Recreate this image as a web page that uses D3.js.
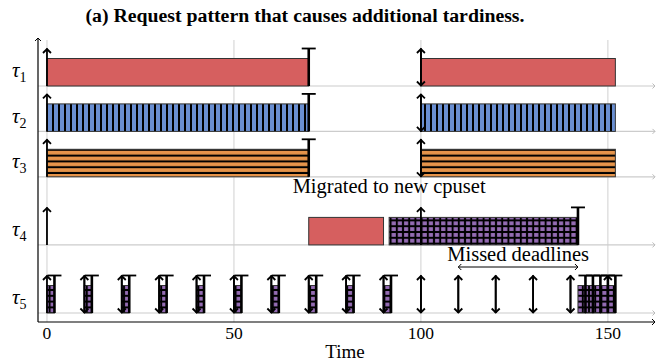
<!DOCTYPE html>
<html>
<head>
<meta charset="utf-8">
<script src="https://cdn.jsdelivr.net/npm/d3@7"></script>
<style>
body { margin: 0; background: #fff; }
text { font-family: "Liberation Serif", "DejaVu Serif", serif; }
</style>
</head>
<body>
<svg id="chart" width="658" height="364"></svg>
<script>
// ---- data ----
var tasks = ["1", "2", "3", "4", "5"];
var rowPos = [0, 1, 2, 3.5, 5];
var xTicks = [0, 50, 100, 150];

// execution segments: [task, start, end, style]
var segments = [
  [0, 0, 70, "red"], [0, 100, 152, "red"],
  [1, 0, 70, "blue"], [1, 100, 152, "blue"],
  [2, 0, 70, "orange"], [2, 100, 152, "orange"],
  [3, 70, 90, "red"], [3, 91.5, 142, "purple"],
  [4, 0, 2, "purple"], [4, 10, 12, "purple"], [4, 20, 22, "purple"],
  [4, 30, 32, "purple"], [4, 40, 42, "purple"], [4, 50, 52, "purple"],
  [4, 60, 62, "purple"], [4, 70, 72, "purple"], [4, 80, 82, "purple"],
  [4, 90, 92, "purple"],
  [4, 142, 144, "purple"], [4, 144, 146, "purple"], [4, 146, 148, "purple"],
  [4, 148, 150, "purple"], [4, 150, 152, "purple"]
];

// job releases (up arrows): [task, time]
var releases = [
  [0, 0], [0, 100], [1, 0], [1, 100], [2, 0], [2, 100],
  [3, 0], [3, 100],
  [4, 0], [4, 10], [4, 20], [4, 30], [4, 40], [4, 50], [4, 60], [4, 70],
  [4, 80], [4, 90], [4, 100], [4, 110], [4, 120], [4, 130], [4, 140], [4, 150]
];

// deadlines (down arrows)
var deadlines = [
  [0, 100], [1, 100], [2, 100],
  [4, 10], [4, 20], [4, 30], [4, 40], [4, 50], [4, 60], [4, 70],
  [4, 80], [4, 90], [4, 100], [4, 110], [4, 120], [4, 130], [4, 140]
];

// completions (T markers)
var completions = [
  [0, 70], [1, 70], [2, 70], [3, 142],
  [4, 2], [4, 12], [4, 22], [4, 32], [4, 42], [4, 52], [4, 62], [4, 72],
  [4, 82], [4, 92], [4, 144], [4, 146], [4, 148], [4, 150], [4, 152]
];

var notes = [
  {text: "Migrated to new cpuset", x: 91.5, y: 2.36},
  {text: "Missed deadlines", x: 126, y: 3.85}
];
var missedSpan = [110, 142];

// ---- drawing ----
var svg = d3.select("#chart");
var xScale = d3.scaleLinear().domain([-2.4, 162.6]).range([38, 655]);
var yScale = d3.scaleLinear().domain([0, 5]).range([86, 313]);
var axisY = 322, topY = 40;
var barH = 27.5, arrowH = 37.5;

var colors = {red: "#d65f5f", blue: "#6a8fd2", orange: "#e6944a", purple: "#956cb4"};

var defs = svg.append("defs");
var pv = defs.append("pattern").attr("id", "pat-blue")
  .attr("patternUnits", "userSpaceOnUse").attr("width", 6).attr("height", 6);
pv.append("rect").attr("width", 6).attr("height", 6).attr("fill", colors.blue);
pv.append("rect").attr("x", 4).attr("width", 2).attr("height", 6).attr("fill", "#000");

var ph = defs.append("pattern").attr("id", "pat-orange")
  .attr("patternUnits", "userSpaceOnUse").attr("width", 6).attr("height", 5.8);
ph.append("rect").attr("width", 6).attr("height", 5.8).attr("fill", colors.orange);
ph.append("rect").attr("y", 3.8).attr("width", 6).attr("height", 2).attr("fill", "#000");

var pg = defs.append("pattern").attr("id", "pat-purple")
  .attr("patternUnits", "userSpaceOnUse").attr("width", 6.2).attr("height", 5.8);
pg.append("rect").attr("width", 6.2).attr("height", 5.8).attr("fill", "#000");
pg.append("rect").attr("x", 1).attr("y", 1).attr("width", 4.2).attr("height", 3.8).attr("fill", colors.purple);

function fillFor(s) {
  if (s == "red") return colors.red;
  return "url(#pat-" + s + ")";
}

// title
svg.append("text")
  .attr("x", 305).attr("y", 22)
  .attr("text-anchor", "middle")
  .attr("font-weight", "bold")
  .attr("font-size", 19.8)
  .text("(a) Request pattern that causes additional tardiness.");

// vertical grid
svg.selectAll("line.vgrid").data(xTicks).enter().append("line")
  .attr("x1", function(d) { return xScale(d); })
  .attr("x2", function(d) { return xScale(d); })
  .attr("y1", topY).attr("y2", axisY)
  .attr("stroke", "#d0d0d0").attr("stroke-width", 1);

function arrowHead(g, x, y, dir, size, color, width) {
  // dir: "up", "down", "right", "left"
  var p;
  if (dir == "up") p = [[x - size, y + size], [x, y], [x + size, y + size]];
  else if (dir == "down") p = [[x - size, y - size], [x, y], [x + size, y - size]];
  else if (dir == "right") p = [[x - size, y - size], [x, y], [x - size, y + size]];
  else p = [[x + size, y - size], [x, y], [x + size, y + size]];
  g.append("path").attr("d", d3.line()(p))
    .attr("fill", "none").attr("stroke", color).attr("stroke-width", width)
    .attr("stroke-linejoin", "miter");
}

// row baselines with small arrows
var gBase = svg.append("g");
rowPos.forEach(function(r) {
  var y = yScale(r);
  gBase.append("line").attr("x1", 38).attr("x2", 655).attr("y1", y).attr("y2", y)
    .attr("stroke", "#cccccc").attr("stroke-width", 1.2);
  arrowHead(gBase, 655, y, "right", 2.5, "#bbbbbb", 1);
});

// bars
svg.selectAll("rect.bar").data(segments).enter().append("rect")
  .attr("class", "bar")
  .attr("x", function(d) { return xScale(d[1]); })
  .attr("y", function(d) { return yScale(rowPos[d[0]]) - barH; })
  .attr("width", function(d) { return xScale(d[2]) - xScale(d[1]); })
  .attr("height", barH)
  .attr("fill", function(d) { return fillFor(d[3]); })
  .attr("stroke", "#333").attr("stroke-width", 1);

// axes
var gAxis = svg.append("g");
gAxis.append("line").attr("x1", 38).attr("x2", 655).attr("y1", axisY).attr("y2", axisY)
  .attr("stroke", "#000").attr("stroke-width", 1.2);
arrowHead(gAxis, 655, axisY, "right", 3, "#000", 1);
gAxis.append("line").attr("x1", 38).attr("x2", 38).attr("y1", axisY).attr("y2", 38)
  .attr("stroke", "#000").attr("stroke-width", 1.2);
arrowHead(gAxis, 38, 38, "up", 3, "#000", 1);

svg.selectAll("text.tick").data(xTicks).enter().append("text")
  .attr("x", function(d) { return xScale(d); })
  .attr("y", 339)
  .attr("text-anchor", "middle")
  .attr("font-size", 17.5)
  .text(function(d) { return d; });

svg.append("text").attr("x", 345).attr("y", 358)
  .attr("text-anchor", "middle").attr("font-size", 19).text("Time");

// task labels
tasks.forEach(function(t, i) {
  var y = yScale(rowPos[i]) - barH / 2 + 5;
  var lbl = svg.append("text").attr("x", 12).attr("y", y).attr("font-size", 21);
  lbl.append("tspan").attr("font-style", "italic").text("τ");
  lbl.append("tspan").attr("font-size", 14).attr("dy", 5).text(t);
});

// releases, deadlines, completions
var gArr = svg.append("g");
releases.forEach(function(d) {
  var x = xScale(d[1]), y0 = yScale(rowPos[d[0]]);
  gArr.append("line").attr("x1", x).attr("x2", x).attr("y1", y0).attr("y2", y0 - arrowH)
    .attr("stroke", "#000").attr("stroke-width", 1.8);
  arrowHead(gArr, x, y0 - arrowH + 0.5, "up", 4, "#000", 1.8);
});
deadlines.forEach(function(d) {
  var x = xScale(d[1]), y0 = yScale(rowPos[d[0]]);
  gArr.append("line").attr("x1", x).attr("x2", x).attr("y1", y0 - arrowH).attr("y2", y0)
    .attr("stroke", "#000").attr("stroke-width", 1.8);
  arrowHead(gArr, x, y0 - 0.5, "down", 4, "#000", 1.8);
});
completions.forEach(function(d) {
  var x = xScale(d[1]), y0 = yScale(rowPos[d[0]]);
  gArr.append("line").attr("x1", x).attr("x2", x).attr("y1", y0).attr("y2", y0 - arrowH)
    .attr("stroke", "#000").attr("stroke-width", 2.6);
  gArr.append("line").attr("x1", x - 7).attr("x2", x + 7)
    .attr("y1", y0 - arrowH).attr("y2", y0 - arrowH)
    .attr("stroke", "#000").attr("stroke-width", 1.8);
});

// annotations
notes.forEach(function(n) {
  svg.append("text").attr("x", xScale(n.x)).attr("y", yScale(n.y))
    .attr("text-anchor", "middle").attr("font-size", 20.5).text(n.text);
});
var my = 267;
gArr.append("line").attr("x1", xScale(missedSpan[0])).attr("x2", xScale(missedSpan[1]))
  .attr("y1", my).attr("y2", my).attr("stroke", "#000").attr("stroke-width", 1);
arrowHead(gArr, xScale(missedSpan[0]), my, "left", 3, "#000", 1);
arrowHead(gArr, xScale(missedSpan[1]), my, "right", 3, "#000", 1);
</script>
</body>
</html>
